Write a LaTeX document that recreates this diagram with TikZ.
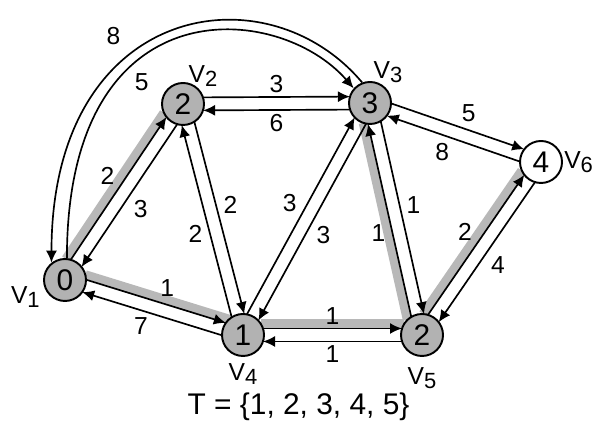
\documentclass[tikz,border=0pt]{standalone}
\usepackage{fontspec}
\setmainfont{Liberation Sans}
\usetikzlibrary{arrows.meta, positioning, calc, backgrounds}

\tikzset{
  vert/.style={circle,draw=black,line width=1.1pt,fill=black!30,minimum size=0.84cm,inner sep=0pt,font=\fontsize{17}{20}\selectfont},
  vertw/.style={vert,fill=white},
  vname/.style={inner sep=0pt,font=\fontsize{14}{16}\selectfont},
  wfont/.style={font=\fontsize{14}{16}\selectfont},
  wlbl/.style={wfont,midway,auto,inner sep=2pt},
  arr/.style={-{Latex[length=0.24cm,width=0.22cm]},line width=0.95pt,shorten <=0.40cm,shorten >=0.40cm},
  arcarr/.style={-{Latex[length=0.24cm,width=0.22cm]},line width=0.95pt},
  treeline/.style={line width=0.18cm,draw=black!28,shorten <=0.36cm,shorten >=0.36cm}
}
\newcommand{\vname}[1]{V\raisebox{-2.3pt}{\fontsize{12.5}{14}\selectfont #1}}
\newcommand{\eoff}{0.13cm}
\newcommand{\diredge}[3]{\draw[arr] ($(#1.center)!\eoff!90:(#2.center)$) -- ($(#2.center)!\eoff!-90:(#1.center)$) node[wlbl] {#3};}
\newcommand{\treeband}[2]{\draw[treeline] ($(#1.center)!0.22cm!90:(#2.center)$) -- ($(#2.center)!0.22cm!-90:(#1.center)$);}

\begin{document}
\begin{tikzpicture}
  \useasboundingbox (0,0) rectangle (11.9,8.44);

  %% vertices
  \node[vert] (v1) at (1.30,2.84) {0};
  \node[vert] (v2) at (3.66,6.36) {2};
  \node[vert] (v3) at (7.40,6.38) {3};
  \node[vertw] (v6) at (10.82,5.20) {4};
  \node[vert] (v4) at (4.86,1.74) {1};
  \node[vert] (v5) at (8.44,1.74) {2};

  %% vertex names
  \node[vname,left=0.06cm of v1,yshift=-0.34cm] (n1) {\vname{1}};
  \node[vname,above=-0.1cm of v2,xshift=0.4cm] (n2) {\vname{2}};
  \node[vname,above=-0.04cm of v3,xshift=0.36cm] (n3) {\vname{3}};
  \node[vname,right=0.02cm of v6] (n6) {\vname{6}};
  \node[vname,below=0.12cm of v4] (n4) {\vname{4}};
  \node[vname,below=0.2cm of v5] (n5) {\vname{5}};

  %% shortest-path tree
  \begin{scope}[on background layer]
    \treeband{v1}{v2}
    \treeband{v1}{v4}
    \treeband{v4}{v5}
    \treeband{v5}{v3}
    \treeband{v5}{v6}
  \end{scope}

  %% edges, both directions
  \diredge{v1}{v2}{2} \diredge{v2}{v1}{3}
  \diredge{v2}{v3}{3} \diredge{v3}{v2}{6}
  \diredge{v3}{v6}{5} \diredge{v6}{v3}{8}
  \diredge{v4}{v2}{2} \diredge{v2}{v4}{2}
  \diredge{v4}{v3}{3} \diredge{v3}{v4}{3}
  \diredge{v5}{v3}{1} \diredge{v3}{v5}{1}
  \diredge{v5}{v6}{2} \diredge{v6}{v5}{4}
  \diredge{v1}{v4}{1} \diredge{v4}{v1}{7}
  \diredge{v4}{v5}{1} \diredge{v5}{v4}{1}

  %% v1 <-> v3 over the top
  \draw[arcarr] (v3.111) .. controls +(130:3.0) and +(90:5.2) .. (v1.128)
      node[wfont,pos=0.6,xshift=-0.39cm,yshift=0.35cm] {8};
  \draw[arcarr] (v1.85) .. controls +(90:5.5) and +(131:2.3) .. (v3.138)
      node[wfont,pos=0.4,xshift=-0.09cm,yshift=-0.55cm] {5};

  \node[font=\fontsize{17}{20}\selectfont,anchor=base] (tset) at (5.97,0.14) {T = \{1, 2, 3, 4, 5\}};
\end{tikzpicture}
\end{document}
